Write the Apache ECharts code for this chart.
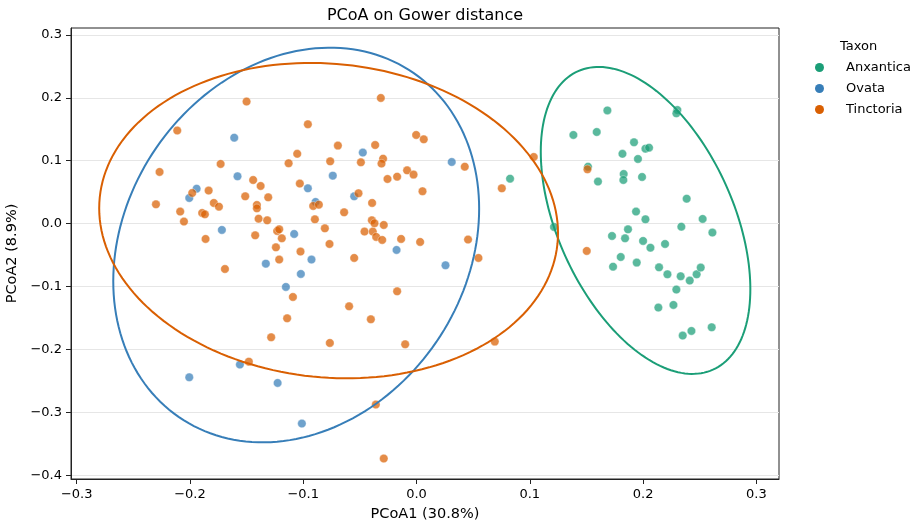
<!DOCTYPE html>
<html>
<head>
<meta charset="utf-8">
<script src="https://cdn.jsdelivr.net/npm/echarts@6/dist/echarts.min.js"></script>
<style>
  html, body { margin: 0; padding: 0; background: #fff; }
  #chart { width: 922px; height: 526px; }
</style>
</head>
<body>
<div id="chart"></div>
<script>
const taxa = ['Anxantica', 'Ovata', 'Tinctoria']
const colors = ['#1b9e77', '#377eb8', '#d95f02']

const xTicks = [-0.3, -0.2, -0.1, 0.0, 0.1, 0.2, 0.3]
const yTicks = [-0.4, -0.3, -0.2, -0.1, 0.0, 0.1, 0.2, 0.3]

const anxantica = [
  [0.0826, 0.0715], [0.1685, 0.180], [0.2303, 0.1807], [0.2294, 0.1753],
  [0.1385, 0.141], [0.1591, 0.1457], [0.1920, 0.1293], [0.2021, 0.1192],
  [0.2053, 0.1208], [0.1818, 0.111], [0.1955, 0.1028], [0.1514, 0.0906],
  [0.1829, 0.079], [0.1826, 0.0694], [0.1991, 0.0742], [0.1602, 0.0668],
  [0.2385, 0.0397], [0.1938, 0.0191], [0.2021, 0.0068], [0.2526, 0.0075],
  [0.2338, -0.0048], [0.2612, -0.0143], [0.1214, -0.0052], [0.1867, -0.0091],
  [0.1726, -0.0196], [0.1841, -0.0233], [0.2000, -0.0275], [0.2065, -0.0382],
  [0.2194, -0.0323], [0.1803, -0.0530], [0.1735, -0.0684], [0.1944, -0.0620],
  [0.2141, -0.0695], [0.2215, -0.0806], [0.2332, -0.0837], [0.2412, -0.0906],
  [0.2473, -0.0806], [0.2509, -0.0699], [0.2294, -0.1049], [0.2135, -0.1335],
  [0.2268, -0.1292], [0.2350, -0.1780], [0.2427, -0.1706], [0.2606, -0.1648]
]

const ovata = [
  [-0.1609, 0.1367], [-0.1580, 0.0752], [-0.1941, 0.0556], [-0.2006, 0.0408],
  [-0.1718, -0.0100], [-0.1080, -0.0164], [-0.0959, 0.0561], [-0.0474, 0.1129],
  [0.0311, 0.098], [-0.0739, 0.0763], [-0.0550, 0.0434], [-0.0891, 0.0345],
  [-0.0176, -0.0418], [-0.0927, -0.0572], [0.0256, -0.0663], [-0.1330, -0.0636],
  [-0.1021, -0.0800], [-0.1153, -0.1006], [-0.1559, -0.2241], [-0.2006, -0.2443],
  [-0.1226, -0.2532], [-0.1012, -0.3179]
]

const tinctoria = [
  [-0.150, 0.194], [-0.2112, 0.148], [-0.0959, 0.158], [-0.1053, 0.111],
  [-0.1129, 0.0959], [-0.1729, 0.0949], [-0.2268, 0.0822], [-0.1442, 0.0694],
  [-0.1376, 0.0599], [-0.1030, 0.0636], [-0.1835, 0.0525], [-0.1980, 0.0488],
  [-0.1512, 0.0434], [-0.1309, 0.0418], [-0.2300, 0.0307], [-0.1789, 0.0329],
  [-0.1744, 0.0270], [-0.1409, 0.0297], [-0.1409, 0.0243], [-0.2086, 0.0191],
  [-0.1892, 0.0170], [-0.1868, 0.0148], [-0.2053, 0.0032], [-0.1394, 0.0079],
  [-0.1318, 0.0052], [-0.1230, -0.0116], [-0.1212, -0.0091], [-0.1189, -0.0233],
  [-0.1424, -0.0186], [-0.1862, -0.0243], [-0.1241, -0.0377], [-0.1024, -0.0445],
  [-0.1212, -0.0572], [-0.1691, -0.0721], [-0.1091, -0.1166], [-0.1142, -0.1505],
  [-0.1283, -0.1807], [-0.1480, -0.2194], [-0.0315, 0.1998], [-0.0003, 0.141],
  [0.0064, 0.134], [-0.0694, 0.124], [-0.0365, 0.125], [-0.0762, 0.099],
  [-0.0491, 0.0975], [-0.0295, 0.1033], [-0.0309, 0.0954], [0.0426, 0.0906],
  [-0.0083, 0.0847], [-0.0026, 0.0779], [-0.0171, 0.0747], [-0.0256, 0.0710],
  [0.0053, 0.0514], [-0.0512, 0.0482], [0.0753, 0.0561], [0.1035, 0.106],
  [-0.0912, 0.0281], [-0.0862, 0.0302], [-0.0392, 0.0329], [-0.0639, 0.018],
  [-0.0897, 0.0068], [-0.0394, 0.0052], [-0.0371, 0.0005], [-0.0289, -0.0021],
  [-0.0809, -0.0075], [-0.0459, -0.0127], [-0.0386, -0.0127], [-0.0356, -0.0211],
  [-0.0303, -0.0259], [-0.0136, -0.0243], [0.0032, -0.0291], [0.0455, -0.0254],
  [-0.0768, -0.0323], [0.1509, 0.0863], [0.1503, -0.0434], [-0.0550, -0.0545],
  [0.0547, -0.0545], [-0.0171, -0.1076], [-0.0595, -0.1314], [-0.0403, -0.1521],
  [-0.0765, -0.1897], [-0.0100, -0.1918], [0.0691, -0.1876], [-0.0359, -0.2877],
  [-0.0289, -0.3735]
]

// confidence ellipses: centre and covariance-like shape [sxx, sxy, syy]
const ellipseCenters = [[0.2022, 0.0051], [-0.1062, -0.0340], [-0.0776, 0.0048]]
const ellipseShapes = [[0.008556, -0.0101, 0.05954], [0.02608, 0.0093, 0.09841], [0.04101, -0.004, 0.06285]]

const points = [anxantica, ovata, tinctoria]

const fmt = v => (Math.abs(v) < 1e-9 ? '0.0' : v.toFixed(1)).replace('-', '\u2212')
const font = 'DejaVu Sans'

const ellipseRender = (params, api) => {
  const i = params.dataIndex
  const [cx, cy] = ellipseCenters[i]
  const [sxx, sxy, syy] = ellipseShapes[i]
  const l11 = Math.sqrt(sxx)
  const l21 = sxy / l11
  const l22 = Math.sqrt(syy - l21 * l21)
  const pts = []
  for (let k = 0; k <= 180; k++) {
    const t = (k / 180) * Math.PI * 2
    const c = Math.cos(t)
    const s = Math.sin(t)
    pts.push(api.coord([cx + l11 * c, cy + l21 * c + l22 * s]))
  }
  return {
    type: 'polyline',
    shape: { points: pts },
    style: { fill: null, stroke: colors[i], lineWidth: 2 }
  }
}

const chart = echarts.init(document.getElementById('chart'), null, { renderer: 'canvas' })

const scatterSeries = taxa.map((name, i) => ({
  name,
  type: 'scatter',
  data: points[i],
  symbolSize: 8.5,
  itemStyle: { color: colors[i], opacity: 0.72, borderColor: '#fff', borderWidth: 0.5 },
  emphasis: { disabled: true },
  z: 2
}))

const axisLineStyle = { color: '#222', width: 1 }

chart.setOption({
  animation: false,
  textStyle: { fontFamily: font },
  grid: {
    left: 71, right: 143, top: 28, bottom: 47,
    show: true, borderColor: '#222', borderWidth: 1,
    outerBoundsMode: 'none'
  },
  graphic: [
    {
      type: 'text', x: 425, y: 8,
      style: { text: 'PCoA on Gower distance', font: '16px "DejaVu Sans"', fill: '#000', align: 'center', textAlign: 'center' }
    },
    {
      type: 'text', x: 840, y: 40,
      style: { text: 'Taxon', font: '13px "DejaVu Sans"', fill: '#000' }
    }
  ],
  legend: {
    data: taxa,
    orient: 'vertical',
    left: 815, top: 61,
    padding: 0,
    itemWidth: 9, itemHeight: 9, itemGap: 8,
    icon: 'circle',
    itemStyle: { opacity: 1, borderWidth: 0 },
    textStyle: { fontFamily: font, fontSize: 13, color: '#000', padding: [0, 0, 0, 17] },
    selectedMode: false
  },
  xAxis: {
    type: 'value', min: -0.305, max: 0.32,
    name: 'PCoA1 (30.8%)', nameLocation: 'middle', nameGap: 28,
    nameTextStyle: { fontFamily: font, fontSize: 14.5, color: '#000' },
    axisLine: { show: true, onZero: false, lineStyle: axisLineStyle },
    axisTick: { show: true, length: 5, customValues: xTicks, lineStyle: axisLineStyle },
    axisLabel: { customValues: xTicks, formatter: fmt, margin: 9, fontFamily: font, fontSize: 13, color: '#000' },
    splitLine: { show: false }
  },
  yAxis: {
    type: 'value', min: -0.406, max: 0.311,
    name: 'PCoA2 (8.9%)', nameLocation: 'middle', nameGap: 32,
    nameTextStyle: { fontFamily: font, fontSize: 14.5, color: '#000' },
    axisLine: { show: true, onZero: false, lineStyle: axisLineStyle },
    axisTick: { show: true, length: 5, customValues: yTicks, lineStyle: axisLineStyle },
    axisLabel: { customValues: yTicks, formatter: fmt, margin: 9, fontFamily: font, fontSize: 13, color: '#000' },
    splitLine: { show: true, lineStyle: { color: '#e6e6e6', width: 1 } }
  },
  series: [
    ...scatterSeries,
    {
      name: 'ellipses',
      type: 'custom',
      renderItem: ellipseRender,
      data: ellipseCenters,
      clip: true,
      silent: true,
      z: 3
    }
  ]
})
</script>
</body>
</html>
